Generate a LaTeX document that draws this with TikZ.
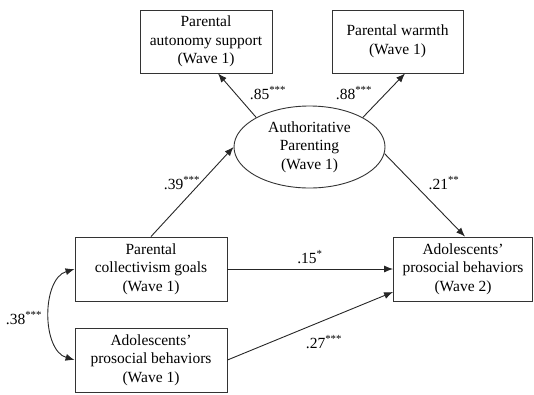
\documentclass[tikz,border=0pt]{standalone}
\usepackage{fontspec}
\setmainfont{Liberation Serif}
\usetikzlibrary{arrows.meta,shapes.geometric}
\begin{document}
\begin{tikzpicture}[x=1pt,y=-1pt,
  every node/.style={font=\fontsize{15.5}{18.5}\selectfont, text=black},
  box/.style={draw=black!80, line width=0.9pt, rectangle, align=center, inner sep=0pt},
  lat/.style={draw=black!80, line width=0.9pt, ellipse, align=center, inner sep=0pt, minimum width=151pt, minimum height=82pt},
  path/.style={draw=black!85, line width=0.9pt, -{Latex[length=9pt,width=7pt]}},
  coef/.style={inner sep=1pt}]
\useasboundingbox (0,0) rectangle (534,394);
\node[box, minimum width=132pt, minimum height=63pt] (auto) at (206,41.5) {Parental\\autonomy support\\(Wave 1)};
\node[box, minimum width=131pt, minimum height=63pt] (warm) at (397.5,41.5) {Parental warmth\\(Wave 1)};
\node[lat] (ap) at (309.5,147) {Authoritative\\Parenting\\(Wave 1)};
\node[box, minimum width=152pt, minimum height=64pt] (coll) at (151,269) {Parental\\collectivism goals\\(Wave 1)};
\node[box, minimum width=152pt, minimum height=64pt] (pro1) at (151,360) {Adolescents’\\prosocial behaviors\\(Wave 1)};
\node[box, minimum width=139pt, minimum height=64pt] (pro2) at (463,269) {Adolescents’\\prosocial behaviors\\(Wave 2)};

\draw[path] (ap.151) -- ([xshift=12pt]auto.south);
\draw[path] (ap.29) -- ([xshift=7.5pt]warm.south);
\draw[path] (coll.north) -- (ap.180);
\draw[path] (ap.-5) -- ([xshift=2pt]pro2.north);
\draw[path] (coll.east) -- (pro2.west);
\draw[path] (pro1.east) -- ([yshift=-23pt]pro2.west);
\draw[draw=black!85, line width=0.9pt, {Latex[length=9pt,width=7pt]}-{Latex[length=9pt,width=7pt]}]
  (coll.west) .. controls +(-33,10) and +(-33,-10) .. (pro1.west);

\node[coef] (c85) at (268,93) {.85\textsuperscript{***}};
\node[coef] (c88) at (354,93) {.88\textsuperscript{***}};
\node[coef] (c39) at (182,183) {.39\textsuperscript{***}};
\node[coef] (c21) at (444,183) {.21\textsuperscript{**}};
\node[coef] (c15) at (310,257) {.15\textsuperscript{*}};
\node[coef] (c27) at (324,342) {.27\textsuperscript{***}};
\node[coef] (c38) at (24,318) {.38\textsuperscript{***}};
\end{tikzpicture}
\end{document}
